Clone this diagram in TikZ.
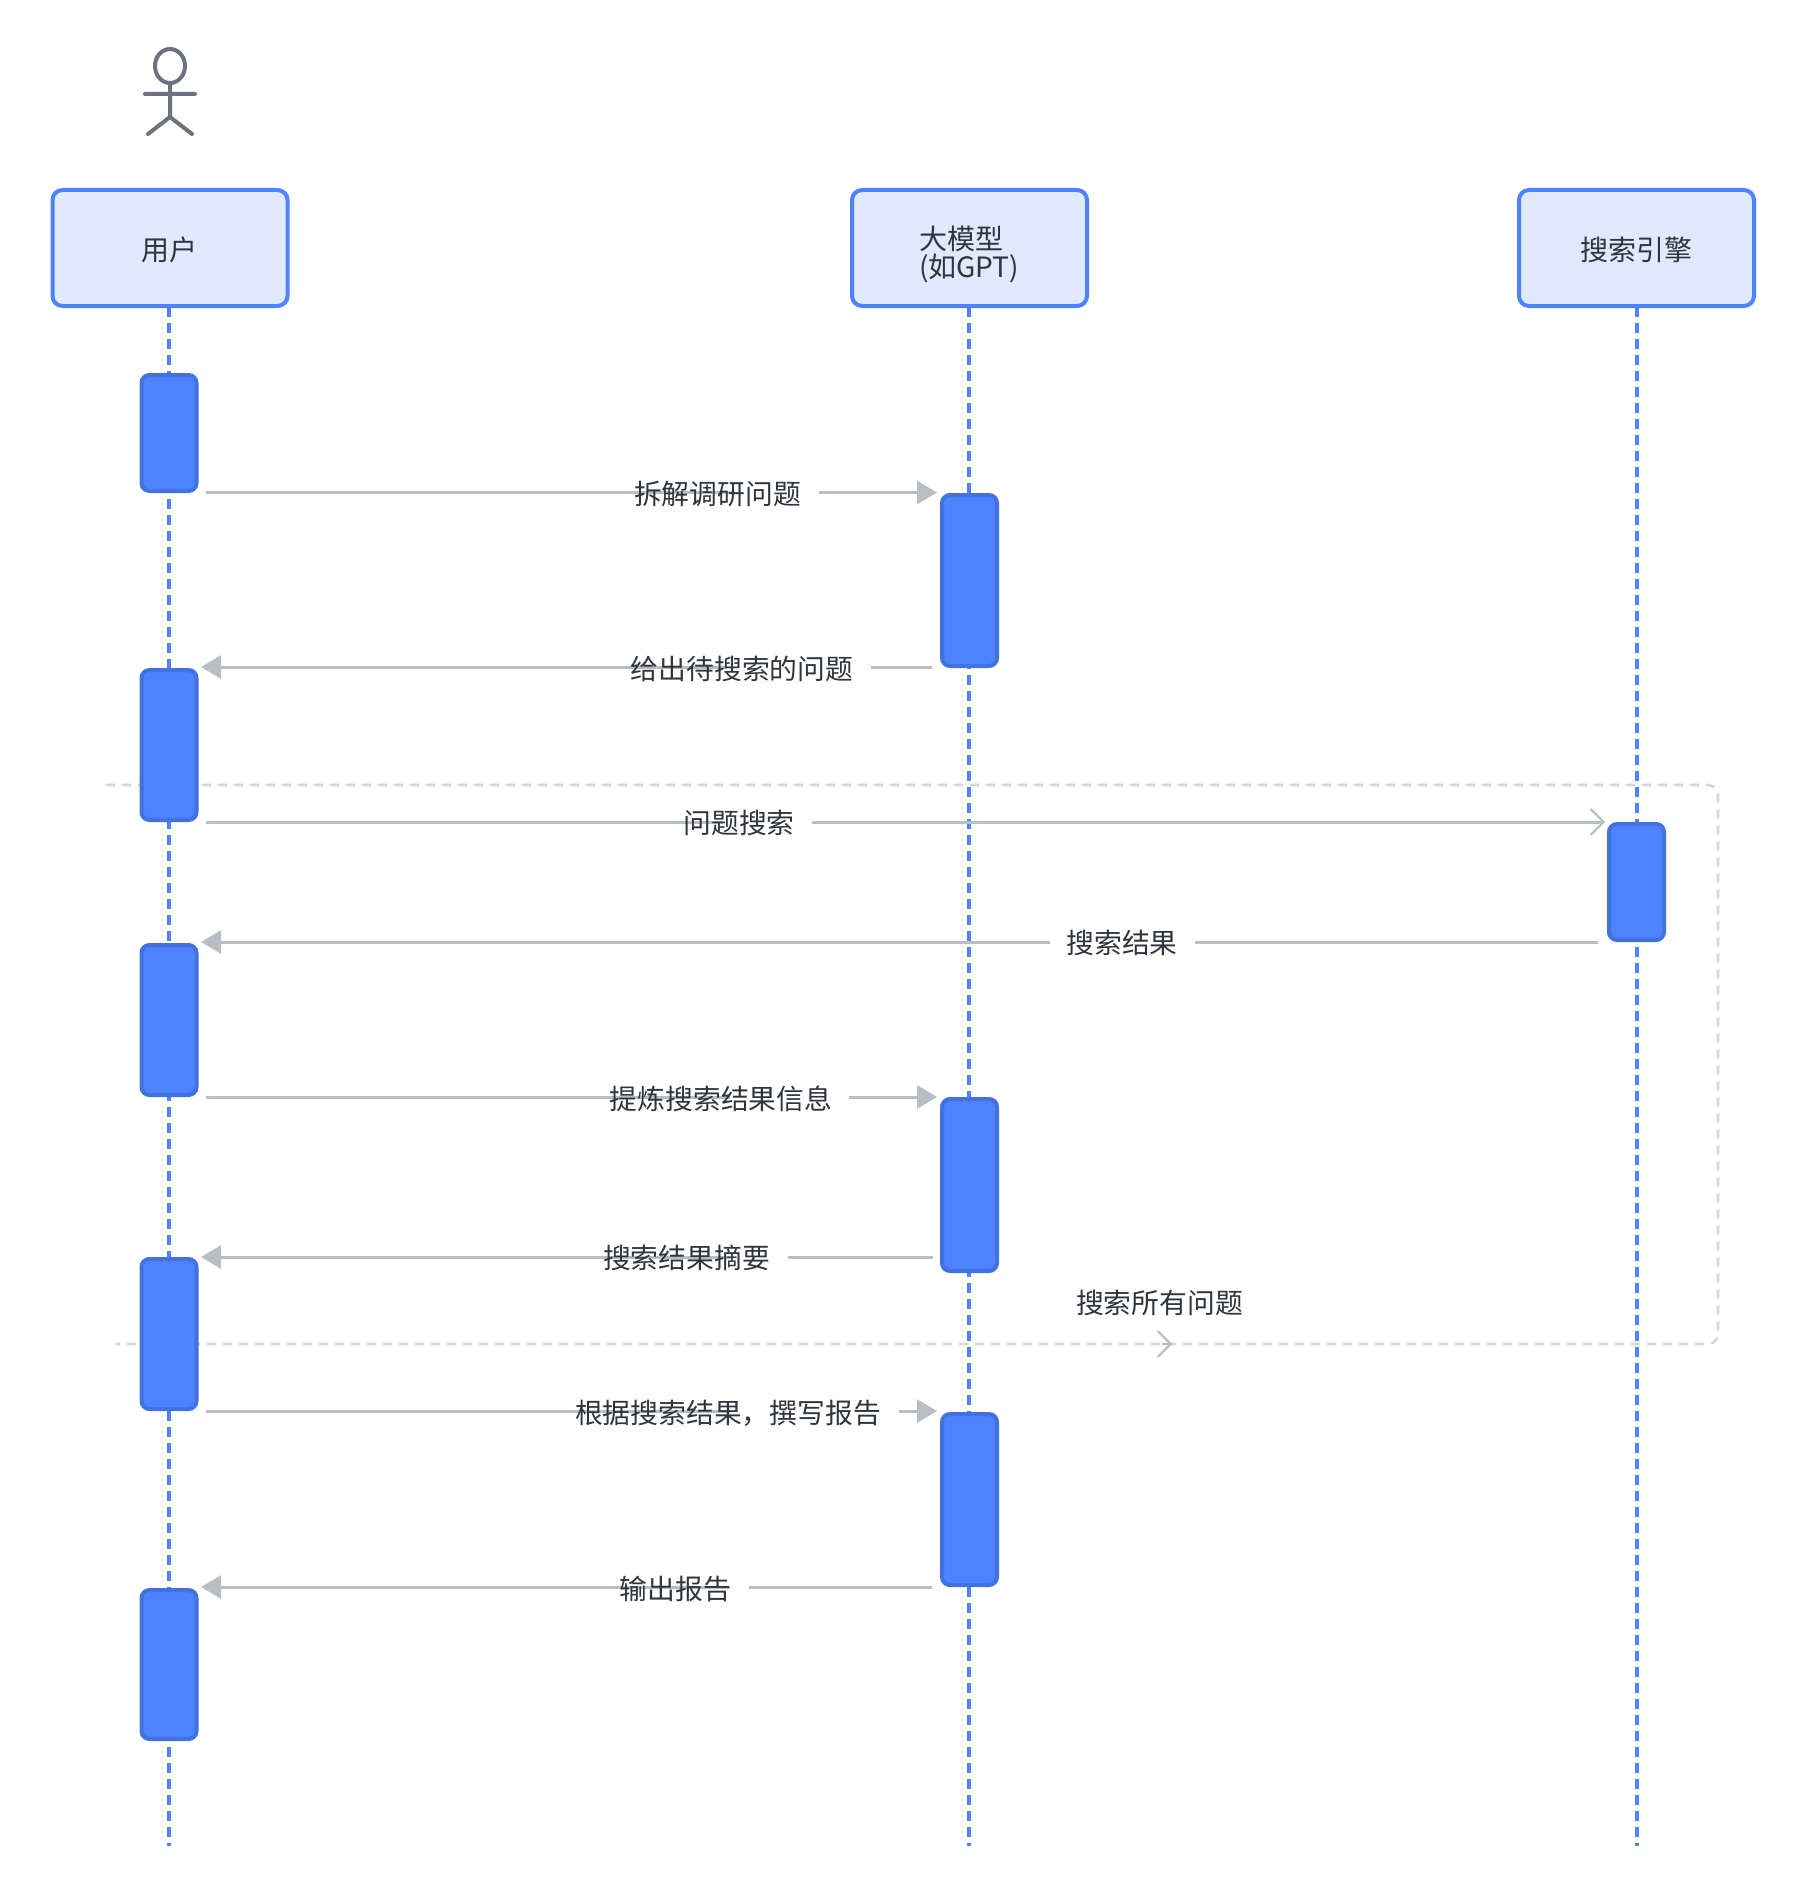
\documentclass[tikz,border=0pt]{standalone}
\usepackage{fontspec}
\setmainfont{Noto Sans CJK SC}
\usetikzlibrary{arrows.meta}
\definecolor{boxfill}{HTML}{E0E9FD}
\definecolor{boxline}{HTML}{4F83FD}
\definecolor{actfill}{HTML}{4E82FF}
\definecolor{actline}{HTML}{4272DD}
\definecolor{msgline}{HTML}{B9BDC4}
\definecolor{loopline}{HTML}{D6D7D9}
\definecolor{figline}{HTML}{6B7280}
\definecolor{txt}{HTML}{2F343D}
\tikzset{
  x=0.5pt,y=-0.5pt,
  party/.style={draw=boxline,fill=boxfill,line width=2pt,rounded corners=5pt,minimum width=117.5pt,minimum height=58pt,inner sep=0pt,outer sep=0pt},
  partytext/.style={inner sep=0pt,outer sep=0pt,text=txt,font=\fontsize{14pt}{14pt}\selectfont},
  act/.style={draw=actline,fill=actfill,line width=2pt,rounded corners=4pt,minimum width=27.5pt,inner sep=0pt,outer sep=0pt},
  life/.style={draw=boxline,line width=2pt,dash pattern=on 5pt off 3pt},
  msg/.style={draw=msgline,line width=1.5pt},
  solidtip/.style={-{Triangle[length=10pt,width=11.5pt,fill=msgline]},draw=msgline,line width=1.5pt},
  opentip/.style={-{Straight Barb[length=6.5pt,width=13pt,line width=1pt]},draw=msgline,line width=1pt},
  msgtext/.style={inner sep=0pt,outer sep=0pt,text=txt,font=\fontsize{13.9pt}{14pt}\selectfont},
  loopdash/.style={draw=loopline,line width=1.3pt,dash pattern=on 4.5pt off 3.5pt,rounded corners=5pt},
  figure stroke/.style={draw=figline,line width=2pt,line cap=round,line join=round},
}
\newcommand{\actbox}[4]{\node[act,minimum height=#4*0.5pt-#3*0.5pt] (#1) at (#2,{(#3+#4)/2}) {};}
\begin{document}
\begin{tikzpicture}
\path[use as bounding box,fill=white] (0,0) rectangle (1804,1894);

% actor
\coordinate (neck) at (170,83);
\coordinate (hip) at (170,117);
\coordinate (armL) at (145,94);
\coordinate (armR) at (195,94);
\coordinate (legL) at (148,134);
\coordinate (legR) at (192,134);
\draw[figure stroke] (170,66) ellipse [x radius=15,y radius=17];
\draw[figure stroke] (neck) -- (hip) (armL) -- (armR) (legL) -- (hip) -- (legR);

% participants
\node[party] (user) at (170,248) {};
\node[party] (model) at (969.5,248) {};
\node[party] (search) at (1636.5,248) {};
\node[partytext] (userText) at (169,250) {用户};
\node[partytext,align=left] (modelText) at (969,254) {大模型\\(如GPT)};
\node[partytext] (searchText) at (1636,250) {搜索引擎};

% lifelines
\coordinate (userEnd) at (169,1846);
\coordinate (modelEnd) at (969,1846);
\coordinate (searchEnd) at (1636.5,1846);
\draw[life] (169,307) -- (userEnd);
\draw[life] (969,307) -- (modelEnd);
\draw[life] (1636.5,307) -- (searchEnd);

% loop frame
\coordinate (loopTL) at (106,785);
\coordinate (loopTR) at (1718,785);
\coordinate (loopBR) at (1718,1344);
\coordinate (loopBL) at (116,1344);
\draw[loopdash] (loopTL) -- (loopTR) -- (loopBR) -- (loopBL);
\coordinate (chevA) at (1162,1344);
\coordinate (chevB) at (1172,1344);
\draw[opentip] (chevA) -- (chevB);

% activations
\actbox{u1}{169}{375}{491}
\actbox{m1}{969.5}{495}{666}
\actbox{u2}{169}{670}{820}
\actbox{s1}{1636.5}{824}{940}
\actbox{u3}{169}{945}{1095}
\actbox{m2}{969.5}{1099}{1271}
\actbox{u4}{169}{1259}{1409}
\actbox{m3}{969.5}{1414}{1585}
\actbox{u5}{169}{1590}{1739}

% message ends
\coordinate (a1) at (206,492.5);  \coordinate (a2) at (733,492.5);  \coordinate (a3) at (819,492.5);  \coordinate (a4) at (937,492.5);
\coordinate (b1) at (201,667);  \coordinate (b2) at (727,667);  \coordinate (b3) at (871,667);  \coordinate (b4) at (932,667);
\coordinate (c1) at (206,822);  \coordinate (c2) at (723,822);  \coordinate (c3) at (812,822);  \coordinate (c4) at (1605,822);
\coordinate (d1) at (201,942);  \coordinate (d2) at (1050,942); \coordinate (d3) at (1195,942); \coordinate (d4) at (1598,942);
\coordinate (e1) at (206,1097); \coordinate (e2) at (730,1097); \coordinate (e3) at (849,1097); \coordinate (e4) at (937,1097);
\coordinate (f1) at (201,1257); \coordinate (f2) at (730,1257); \coordinate (f3) at (788,1257); \coordinate (f4) at (933,1257);
\coordinate (g1) at (206,1411); \coordinate (g2) at (730,1411); \coordinate (g3) at (899,1411); \coordinate (g4) at (937,1411);
\coordinate (h1) at (201,1587); \coordinate (h2) at (730,1587); \coordinate (h3) at (749,1587); \coordinate (h4) at (932,1587);

\draw[msg] (a1) -- (a2); \draw[solidtip] (a3) -- (a4);
\draw[solidtip] (b2) -- (b1); \draw[msg] (b3) -- (b4);
\draw[msg] (c1) -- (c2); \draw[opentip,line width=1.5pt] (c3) -- (c4);
\draw[solidtip] (d2) -- (d1); \draw[msg] (d3) -- (d4);
\draw[msg] (e1) -- (e2); \draw[solidtip] (e3) -- (e4);
\draw[solidtip] (f2) -- (f1); \draw[msg] (f3) -- (f4);
\draw[msg] (g1) -- (g2); \draw[solidtip] (g3) -- (g4);
\draw[solidtip] (h2) -- (h1); \draw[msg] (h3) -- (h4);

% labels
\node[msgtext] (t1) at (717.5,494) {拆解调研问题};
\node[msgtext] (t2) at (742,668.5) {给出待搜索的问题};
\node[msgtext] (t3) at (739,823) {问题搜索};
\node[msgtext] (t4) at (1122,943) {搜索结果};
\node[msgtext] (t5) at (721,1099) {提炼搜索结果信息};
\node[msgtext] (t6) at (686.5,1258) {搜索结果摘要};
\node[msgtext] (t7) at (728,1413) {根据搜索结果，撰写报告};
\node[msgtext] (t8) at (675.5,1589) {输出报告};
\node[msgtext] (t9) at (1159.5,1303) {搜索所有问题};
\end{tikzpicture}
\end{document}
